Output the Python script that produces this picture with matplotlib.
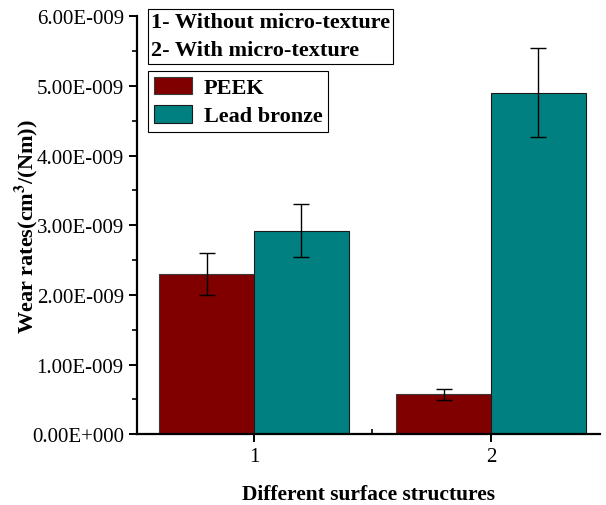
import numpy as np
import matplotlib
matplotlib.use('Agg')
import matplotlib.pyplot as plt
from matplotlib.ticker import FuncFormatter

plt.rcParams['font.family'] = ['Liberation Serif', 'DejaVu Serif']
plt.rcParams['mathtext.fontset'] = 'stix'

# 数据：两种表面结构下的磨损率
structures = [1, 2]
materials = ['PEEK', 'Lead bronze']
peek_rate = [2.30e-9, 0.575e-9]
peek_err = [0.30e-9, 0.08e-9]
bronze_rate = [2.92e-9, 4.90e-9]
bronze_err = [0.38e-9, 0.64e-9]
colors = ['#800000', '#008080']
y_major = [0, 1e-9, 2e-9, 3e-9, 4e-9, 5e-9, 6e-9]


def sci_fmt(v, pos):
    # 形如 6.00E-009 的刻度格式
    if v == 0:
        return '0.00E+000'
    exp = int(np.floor(np.log10(abs(v))))
    man = v / 10 ** exp
    if round(man, 2) >= 10:
        man /= 10
        exp += 1
    sign = '-' if exp < 0 else '+'
    return f'{man:.2f}E{sign}{abs(exp):03d}'


W, H = 606, 506
fig = plt.figure(figsize=(W / 100, H / 100), dpi=100)
ax = fig.add_axes([0.226, 0.140, 0.764, 0.826])

x = np.array(structures, dtype=float)
w = 0.4
ekw = dict(ecolor='black', elinewidth=1.0, capsize=5.5, capthick=1.0)
ax.bar(x - w / 2, peek_rate, w, color=colors[0], edgecolor='#3a3a3a',
       linewidth=0.8, yerr=peek_err, error_kw=ekw, label=materials[0])
ax.bar(x + w / 2, bronze_rate, w, color=colors[1], edgecolor='#1a1a1a',
       linewidth=0.8, yerr=bronze_err, error_kw=ekw, label=materials[1])

ax.set_xlim(0.506, 2.46)
ax.set_ylim(0, 6e-9)
ax.set_xticks(structures)
ax.set_xticklabels([str(s) for s in structures])
ax.set_xticks([1.5], minor=True)
ax.set_yticks(y_major)
ax.set_yticks([v + 0.5e-9 for v in y_major[:-1]], minor=True)
ax.yaxis.set_major_formatter(FuncFormatter(sci_fmt))

for s in ['top', 'right']:
    ax.spines[s].set_visible(False)
for s in ['left', 'bottom']:
    ax.spines[s].set_linewidth(1.6)

ax.tick_params(axis='both', which='major', labelsize=15, width=1.4, length=6)
ax.tick_params(axis='y', which='minor', width=1.2, length=3.5)
ax.tick_params(axis='x', which='minor', direction='in', width=1.2, length=3.5)
ax.tick_params(axis='x', which='major', pad=3)

ax.set_xlabel('Different surface structures', fontsize=15.5, fontweight='bold', labelpad=13)
ax.set_ylabel('Wear rates(cm$^\\mathbf{3}$/(Nm))', fontsize=16, fontweight='bold', labelpad=-6)

# 说明框
fig.text(151 / W, 1 - 13 / H, '1- Without micro-texture\n2- With micro-texture',
         ha='left', va='top', fontsize=16, fontweight='bold', linespacing=1.55,
         bbox=dict(boxstyle='square,pad=0.15', facecolor='white', edgecolor='black', linewidth=0.8))

leg = fig.legend(loc='upper left', bbox_to_anchor=(148 / W, 1 - 72 / H), fancybox=False,
                 edgecolor='black', framealpha=1, borderpad=0.25, handlelength=1.75,
                 handleheight=0.85, handletextpad=0.5, labelspacing=0.3,
                 prop=dict(size=16, weight='bold'), borderaxespad=0)
leg.get_frame().set_linewidth(0.8)

fig.savefig('out.png', dpi=100)
